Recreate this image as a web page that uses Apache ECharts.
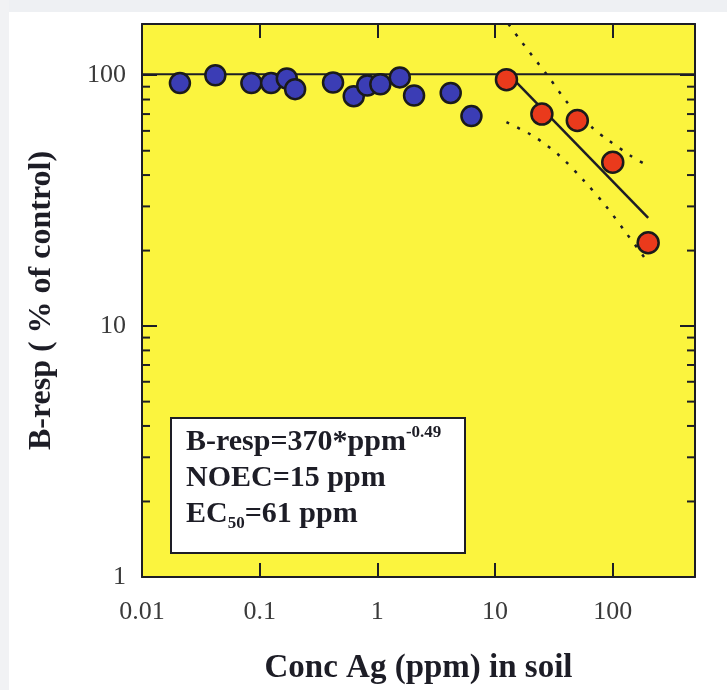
<!DOCTYPE html>
<html><head><meta charset="utf-8">
<script src="https://cdn.jsdelivr.net/npm/echarts@6/dist/echarts.min.js"></script>
<style>html,body{margin:0;padding:0;background:#fff}#c{width:727px;height:690px}</style>
</head><body><div id="c"></div>
<script>
// ---- data ----
const blueData = [[0.021,93],[0.042,100],[0.085,93],[0.125,93],[0.17,97],[0.20,88],[0.42,93.5],[0.63,82.5],[0.82,91],[1.06,92],[1.55,98],[2.05,83],[4.2,85],[6.3,68.7]];
const redData = [[12.5,96],[25,70],[50,66],[100,45],[200,21.5]];
const controlLine = [[0.01,101],[500,101]];
const fitLine = [[13,101],[200,27]];
const upperBand = [[13,160],[16,140],[28.7,98],[42,77],[69,61],[90,55.5],[146,47.3],[191,44]];
const lowerBand = [[12.5,65],[21.4,57],[35.6,47.6],[56.8,38],[88,30],[130,23.5],[190,18.5]];
const xRange = [0.01, 500];
const yRange = [1, 160];
const yMinorTicks = [2,3,4,5,6,7,8,9,20,30,40,50,60,70,80,90];
const xTitle = 'Conc Ag (ppm) in soil';
const yTitle = 'B-resp ( % of control)';

const SERIF = '"Liberation Serif","Times New Roman",serif';
const INK = '#1d1d26';
const isPow10 = v => Math.abs(Math.log10(v) - Math.round(Math.log10(v))) < 1e-6;
const fmt = v => isPow10(v) ? (v >= 1 ? String(Math.round(v)) : String(+v.toPrecision(3))) : '';

const chart = echarts.init(document.getElementById('c'), null, {renderer:'canvas'});
const axisLine = {show:true, lineStyle:{color:INK, width:2}};
const option = {
  backgroundColor:'#ffffff',
  animation:false,
  grid:{left:142, top:24, width:553, height:553, containLabel:false, outerBoundsMode:'none',
        show:true, backgroundColor:'#fbf43e', borderWidth:0},
  xAxis:[
    {type:'log', logBase:10, min:xRange[0], max:xRange[1], position:'bottom',
     axisLine, splitLine:{show:false},
     axisTick:{show:true, inside:true, length:14, lineStyle:{color:INK, width:2}},
     axisLabel:{formatter:fmt, fontFamily:SERIF, fontSize:26, color:'#3a3a3a', margin:22},
     name:xTitle, nameLocation:'middle', nameGap:75,
     nameTextStyle:{fontFamily:SERIF, fontSize:33, fontWeight:'bold', color:INK}},
    {type:'log', logBase:10, min:xRange[0], max:xRange[1], position:'top',
     axisLine, splitLine:{show:false},
     axisTick:{show:true, inside:true, length:14, lineStyle:{color:INK, width:2}},
     axisLabel:{show:false}}
  ],
  yAxis:[
    {type:'log', logBase:10, min:yRange[0], max:yRange[1], position:'left',
     axisLine, splitLine:{show:false},
     axisTick:{show:true, inside:true, length:15, lineStyle:{color:INK, width:2}},
     axisLabel:{formatter:fmt, fontFamily:SERIF, fontSize:26, color:'#3a3a3a', margin:16},
     name:yTitle, nameLocation:'middle', nameGap:84, nameRotate:90,
     nameTextStyle:{fontFamily:SERIF, fontSize:32, fontWeight:'bold', color:INK}},
    {type:'log', logBase:10, min:yRange[0], max:yRange[1], position:'right',
     axisLine, splitLine:{show:false},
     axisTick:{show:true, inside:true, length:15, lineStyle:{color:INK, width:2}},
     axisLabel:{show:false}}
  ],
  series:[
    {type:'custom', xAxisIndex:0, yAxisIndex:0, silent:true, z:3,
     data:yMinorTicks.map(v => [xRange[0], v]),
     renderItem:(params, api) => {
       const v = api.value(1);
       const pL = api.coord([xRange[0], v]);
       const pR = api.coord([xRange[1], v]);
       const st = {stroke:INK, lineWidth:2};
       return {type:'group', children:[
         {type:'line', shape:{x1:pL[0], y1:pL[1], x2:pL[0]+8, y2:pL[1]}, style:st},
         {type:'line', shape:{x1:pR[0]-8, y1:pR[1], x2:pR[0], y2:pR[1]}, style:st}
       ]};
     }},
    {type:'line', data:controlLine, symbol:'none', lineStyle:{color:INK, width:2}, z:4},
    {type:'line', data:fitLine, symbol:'none', lineStyle:{color:INK, width:2.5}, z:4},
    {type:'line', data:upperBand, symbol:'none', smooth:0.3, lineStyle:{color:INK, width:2.5, type:[3,9]}, z:4},
    {type:'line', data:lowerBand, symbol:'none', smooth:0.3, lineStyle:{color:INK, width:2.5, type:[3,9]}, z:4},
    {type:'scatter', data:blueData, symbol:'circle', symbolSize:20, z:5,
     itemStyle:{color:'#3b3db5', borderColor:'#1a1a1a', borderWidth:2.5, opacity:1}},
    {type:'scatter', data:redData, symbol:'circle', symbolSize:21, z:5,
     itemStyle:{color:'#ea3a1c', borderColor:'#1a1a1a', borderWidth:2.5, opacity:1}}
  ],
  graphic:[
    {type:'rect', left:0, top:0, shape:{width:727, height:12}, style:{fill:'#eef0f3'}, silent:true},
    {type:'rect', left:0, top:0, shape:{width:9, height:690}, style:{fill:'#f1f2f4'}, silent:true},
    {type:'rect', left:170, top:417, z:10, shape:{width:294, height:135},
     style:{fill:'#ffffff', stroke:INK, lineWidth:2}},
    {type:'text', left:186, top:424, z:11,
     style:{
       text:'{m|B-resp=370*ppm}{sup|-0.49}\n{m|NOEC=15 ppm}\n{m|EC}{sub|50}{m|=61 ppm}',
       fill:INK,
       rich:{
         m:{fontFamily:SERIF, fontSize:30, fontWeight:'bold', lineHeight:36, fill:INK},
         sup:{fontFamily:SERIF, fontSize:17, fontWeight:'bold', lineHeight:36, verticalAlign:'top', fill:INK},
         sub:{fontFamily:SERIF, fontSize:17, fontWeight:'bold', lineHeight:36, verticalAlign:'bottom', fill:INK}
       }
     }}
  ]
};
chart.setOption(option);
</script>
</body></html>
